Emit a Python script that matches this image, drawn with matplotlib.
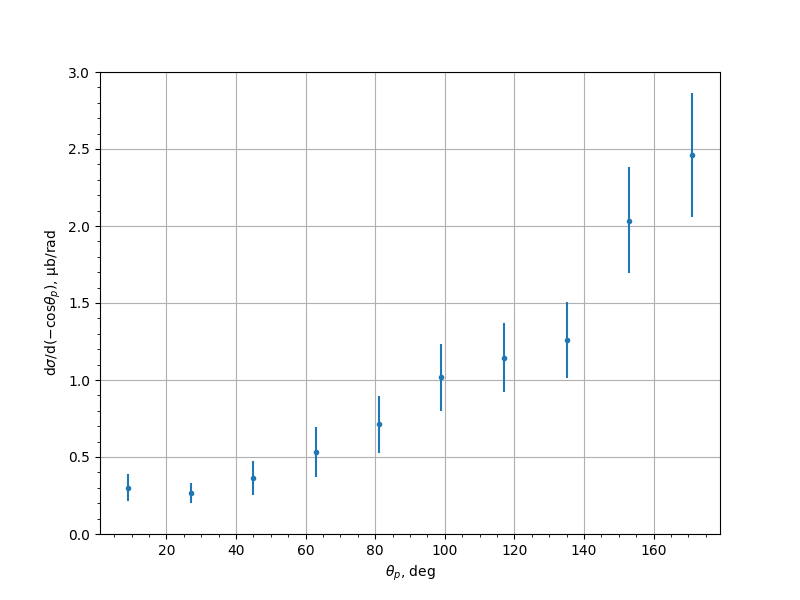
import matplotlib
matplotlib.use("Agg")
import matplotlib.pyplot as plt
from matplotlib.ticker import AutoMinorLocator

theta = [9, 27, 45, 63, 81, 99, 117, 135, 153, 171]
xsec = [0.297, 0.264, 0.362, 0.530, 0.712, 1.017, 1.141, 1.258, 2.030, 2.459]
err_low = [0.081, 0.061, 0.107, 0.158, 0.184, 0.217, 0.217, 0.243, 0.337, 0.403]
err_high = [0.093, 0.067, 0.112, 0.165, 0.184, 0.217, 0.229, 0.248, 0.351, 0.403]

fig, ax = plt.subplots(figsize=(8, 6), dpi=100)
ax.errorbar(theta, xsec, yerr=[err_low, err_high], fmt='.')
ax.set_ylim(0, 3)
ax.xaxis.set_minor_locator(AutoMinorLocator(4))
ax.yaxis.set_minor_locator(AutoMinorLocator(5))
ax.grid(True)
ax.set_xlabel(r'$\theta_p$, deg')
ax.set_ylabel(r'd$\sigma$/d($-$cos$\theta_p$), μb/rad')

plt.savefig("out.png")
